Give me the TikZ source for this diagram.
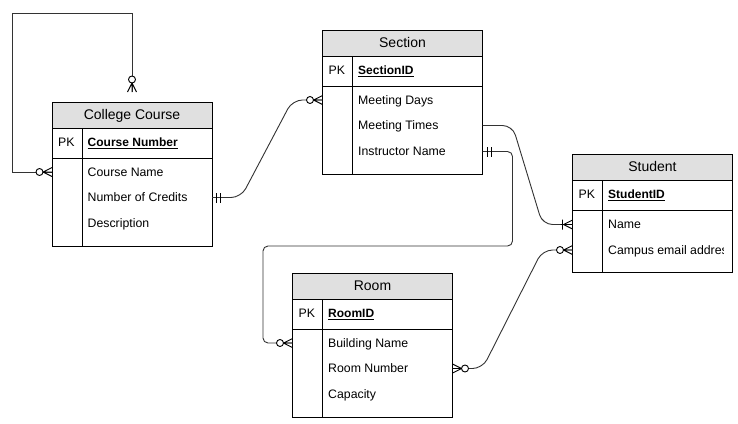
\documentclass[tikz,border=0pt]{standalone}
\usepackage{fontspec}
\setmainfont{Liberation Sans}
\usetikzlibrary{calc}
\definecolor{hdrgray}{RGB}{224,224,224}
\definecolor{conngray}{RGB}{51,51,51}
\tikzset{
  ent/.style={draw=black, line width=1pt, minimum width=160pt, anchor=north west, inner sep=0pt, outer sep=0pt},
  ln/.style={draw=black, line width=1pt},
  ttl/.style={font=\fontsize{14}{16}\selectfont, inner sep=0pt, text height=10pt, text depth=0pt},
  attr/.style={font=\fontsize{12.3}{14}\selectfont, anchor=west, inner sep=0pt, text height=8.8pt, text depth=0pt},
  keyattr/.style={attr, font=\fontsize{12}{14}\selectfont\bfseries},
  conn/.style={draw=conngray, line width=0.9pt, rounded corners=10pt},
  mk/.style={draw=black, line width=0.9pt},
  pics/zeromany/.style={code={
    \draw[mk] (0,4.5) -- (9,0) -- (0,-4.5) (0,0) -- (9,0);
    \draw[mk, fill=white] (12.5,0) circle[radius=3.5pt];
  }},
  pics/onemany/.style={code={
    \draw[mk] (0,4.5) -- (9,0) -- (0,-4.5) (0,0) -- (12,0) (10,5) -- (10,-5);
  }},
  pics/oneone/.style={code={
    \draw[mk] (4.5,5) -- (4.5,-5) (8.5,5) -- (8.5,-5);
  }},
}
\newcommand{\erbox}[5]{%
  \fill[hdrgray] (#2,#3) rectangle ++(160,26);
  \node[ent, minimum height=#4pt] (#1) at (#2,#3) {};
  \draw[ln] ($(#1.north west)+(0,26)$) -- ($(#1.north east)+(0,26)$);
  \draw[ln] ($(#1.north west)+(0,56)$) -- ($(#1.north east)+(0,56)$);
  \draw[ln] ($(#1.north west)+(30,26)$) -- ($(#1.south west)+(30,0)$);
  \node[ttl] (#1-title) at ($(#1.north)+(0,12.8)$) {#5};
  \node[attr] (#1-pk) at ($(#1.north west)+(6,40)$) {PK};
}
\begin{document}
\begin{tikzpicture}[x=1pt,y=-1pt]
\fill[white] (0,0) rectangle (738,423);
\useasboundingbox (0,0) rectangle (738,423);

% College Course
\erbox{cc}{52}{102}{144}{College Course}
\node[keyattr] (cc-key) at (87.5,142) {\underline{Course Number}};
\node[attr] (cc-name) at (87.5,172) {Course Name};
\node[attr] (cc-cred) at (87.5,197.5) {Number of Credits};
\node[attr] (cc-desc) at (87.5,223.5) {Description};

% Section
\erbox{sec}{322.5}{30}{144}{Section}
\node[keyattr] (sec-key) at (358,70) {\underline{SectionID}};
\node[attr] (sec-days) at (358,100) {Meeting Days};
\node[attr] (sec-times) at (358,125.5) {Meeting Times};
\node[attr] (sec-instr) at (358,151.5) {Instructor Name};

% Student
\erbox{stu}{572.5}{154}{118}{Student}
\node[keyattr] (stu-key) at (608,194) {\underline{StudentID}};
\node[attr] (stu-name) at (608,224.5) {Name};
\begin{scope}
  \clip (603,212) rectangle (723,271);
  \node[attr] (stu-email) at (608,250) {Campus email address};
\end{scope}

% Room
\erbox{room}{292.5}{273}{144}{Room}
\node[keyattr] (room-key) at (328,313) {\underline{RoomID}};
\node[attr] (room-bld) at (328,343) {Building Name};
\node[attr] (room-num) at (328,368.5) {Room Number};
\node[attr] (room-cap) at (328,394.5) {Capacity};

% connectors
\coordinate (loopA) at (12,13);
\draw[conn, rounded corners=0pt] ($(cc.north)+(0,-10)$) |- (loopA) |- (cc.west |- cc-name.west);
\draw[conn] (cc.east |- cc-cred.west) -- ++(29,0) -- ($(sec.west |- sec-days.west)+(-30,0)$) -- (sec.west |- sec-days.west);
\draw[conn] (sec.east |- sec-times.west) -- ++(30,0) -- ($(stu.west |- stu-name.west)+(-30,0)$) -- (stu.west |- stu-name.west);
\draw[conn] (room.east |- room-num.west) -- ++(30,0) -- ($(stu.west |- stu-email.west)+(-30,0)$) -- (stu.west |- stu-email.west);
\draw[conn, rounded corners=5pt] (sec.east |- sec-instr.west) -- ++(30,0) |- (263,246) |- (room.west |- room-bld.west);

% markers
\pic[rotate=90] at ($(cc.north)+(0,-10)$) {zeromany};
\pic[rotate=180] at (cc.west |- cc-name.west) {zeromany};
\pic at (cc.east |- cc-cred.west) {oneone};
\pic[rotate=180] at (sec.west |- sec-days.west) {zeromany};
\pic[rotate=180] at (stu.west |- stu-name.west) {onemany};
\pic at (sec.east |- sec-instr.west) {oneone};
\pic[rotate=180] at (room.west |- room-bld.west) {zeromany};
\pic at (room.east |- room-num.west) {zeromany};
\pic[rotate=180] at (stu.west |- stu-email.west) {zeromany};
\end{tikzpicture}
\end{document}
